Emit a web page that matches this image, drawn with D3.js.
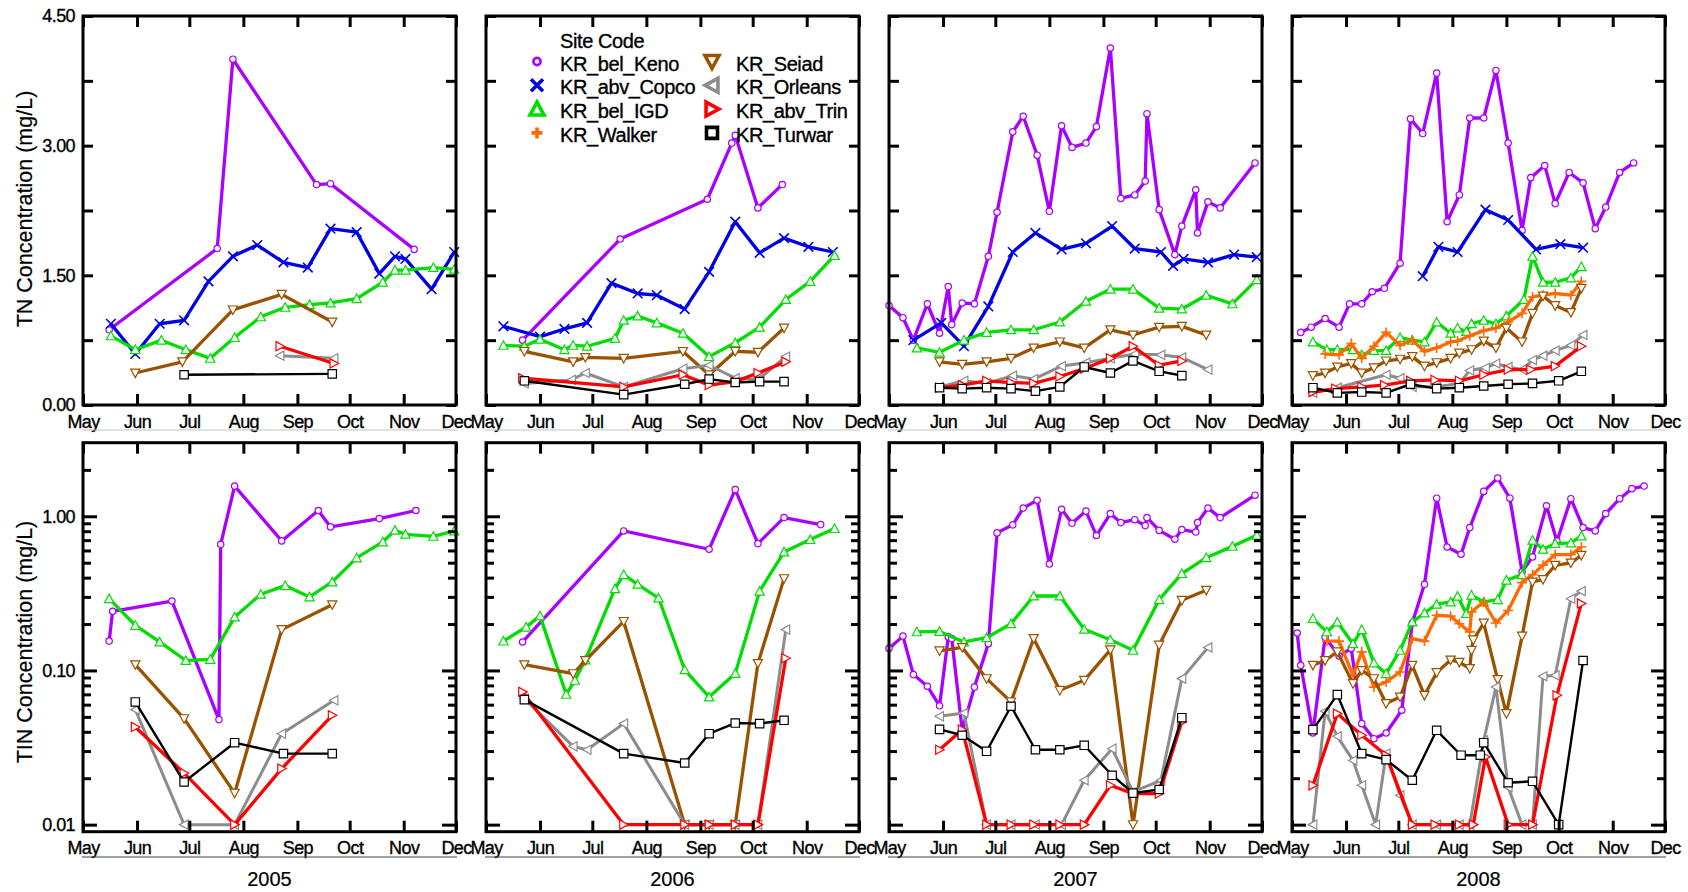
<!DOCTYPE html>
<html>
<head>
<meta charset="utf-8">
<script src="https://cdn.jsdelivr.net/npm/d3@7"></script>
<style>
  body { margin: 0; background: #fff; }
  svg { display: block; }
  text { font-family: "Liberation Sans", Arial, sans-serif; stroke: #000; stroke-width: 0.35px; }
</style>
</head>
<body>
<svg id="chart" width="1688" height="892"></svg>
<script>
// ---- categories and styles per monitoring site ----
const years = [2005, 2006, 2007, 2008];
const sites = ["KR_bel_Keno", "KR_abv_Copco", "KR_bel_IGD", "KR_Walker",
               "KR_Seiad", "KR_Orleans", "KR_abv_Trin", "KR_Turwar"];
const siteColors = ["#aa00ff", "#0000e6", "#00dd00", "#ff6a00",
                    "#9a5200", "#8c8c8c", "#ff0000", "#000000"];
const siteMarkers = ["circle", "x", "triUp", "plus", "triDown", "triLeft", "triRight", "square"];

// ---- axis ticks ----
const tnTicks = [0, 0.75, 1.5, 2.25, 3, 3.75, 4.5];
const tnTickLabels = [0, 1.5, 3, 4.5];
const tinMajorTicks = [0.01, 0.1, 1];
const tinMinorTicks = [0.02, 0.03, 0.04, 0.05, 0.06, 0.07, 0.08, 0.09,
                       0.2, 0.3, 0.4, 0.5, 0.6, 0.7, 0.8, 0.9, 2];

// ---- TN concentration (mg/L), [month-day, value] ----
const tn2005Keno = [["05-16",0.87],["07-17",1.81],["07-26",4.0],["09-12",2.55],["09-20",2.56],["11-07",1.80]];
const tn2005Copco = [["05-17",0.94],["05-31",0.59],["06-14",0.94],["06-28",0.98],["07-12",1.43],["07-26",1.72],["08-09",1.85],["08-24",1.65],["09-07",1.59],["09-20",2.04],["10-05",2.00],["10-18",1.52],["10-27",1.72],["11-02",1.69],["11-17",1.34],["11-30",1.77]];
const tn2005IGD = [["05-17",0.80],["05-31",0.64],["06-15",0.75],["06-29",0.64],["07-13",0.54],["07-27",0.78],["08-11",1.02],["08-25",1.13],["09-08",1.16],["09-20",1.18],["10-05",1.23],["10-20",1.42],["10-27",1.56],["11-02",1.56],["11-18",1.59],["11-30",1.57]];
const tn2005Walker = [];
const tn2005Seiad = [["05-31",0.37],["06-27",0.50],["07-26",1.10],["08-23",1.28],["09-21",0.96]];
const tn2005Orleans = [["08-22",0.57],["09-22",0.54]];
const tn2005Trin = [["08-22",0.68],["09-22",0.48]];
const tn2005Turwar = [["06-28",0.35],["09-21",0.36]];

const tn2006Keno = [["05-22",0.75],["07-17",1.92],["09-05",2.38],["09-19",3.03],["09-21",3.12],["10-04",2.28],["10-18",2.55]];
const tn2006Copco = [["05-11",0.91],["06-01",0.79],["06-15",0.88],["06-28",0.95],["07-12",1.41],["07-27",1.29],["08-07",1.27],["08-23",1.11],["09-06",1.54],["09-21",2.12],["10-05",1.76],["10-19",1.93],["11-02",1.83],["11-16",1.77]];
const tn2006IGD = [["05-11",0.69],["05-23",0.68],["06-01",0.76],["06-15",0.64],["06-20",0.69],["06-28",0.68],["07-14",0.77],["07-19",0.98],["07-27",1.03],["08-07",0.95],["08-22",0.83],["09-06",0.56],["09-21",0.72],["10-05",0.90],["10-20",1.22],["11-03",1.43],["11-17",1.73]];
const tn2006Walker = [];
const tn2006Seiad = [["05-23",0.62],["06-20",0.50],["06-27",0.55],["07-19",0.54],["08-22",0.62],["09-06",0.35],["09-21",0.62],["10-04",0.61],["10-19",0.89]];
const tn2006Orleans = [["05-23",0.25],["06-19",0.29],["06-27",0.37],["07-19",0.21],["08-22",0.42],["09-06",0.46],["09-21",0.31],["10-04",0.29],["10-20",0.56]];
const tn2006Trin = [["05-22",0.31],["07-19",0.21],["08-22",0.35],["09-06",0.23],["09-21",0.27],["10-04",0.37],["10-20",0.50]];
const tn2006Turwar = [["05-23",0.28],["07-19",0.12],["08-23",0.24],["09-06",0.30],["09-21",0.26],["10-05",0.27],["10-19",0.27]];

const tn2007Keno = [["05-01",1.15],["05-09",1.01],["05-15",0.75],["05-23",1.17],["05-30",0.83],["06-04",1.37],["06-06",0.93],["06-12",1.18],["06-19",1.17],["06-27",1.72],["07-02",2.23],["07-11",3.16],["07-17",3.34],["07-25",2.89],["08-01",2.24],["08-08",3.23],["08-14",2.98],["08-22",3.03],["08-28",3.22],["09-05",4.13],["09-11",2.39],["09-19",2.43],["09-25",2.59],["09-26",3.37],["10-03",2.26],["10-12",1.74],["10-16",2.07],["10-24",2.49],["10-25",1.99],["10-31",2.35],["11-07",2.28],["11-27",2.80]];
const tn2007Copco = [["05-15",0.75],["05-31",0.95],["06-13",0.68],["06-27",1.14],["07-11",1.77],["07-24",1.99],["08-08",1.80],["08-22",1.87],["09-06",2.07],["09-19",1.81],["10-04",1.77],["10-11",1.61],["10-17",1.69],["10-31",1.65],["11-15",1.74],["11-28",1.71]];
const tn2007IGD = [["05-17",0.66],["05-30",0.61],["06-13",0.75],["06-26",0.84],["07-10",0.87],["07-23",0.87],["08-07",0.96],["08-22",1.20],["09-05",1.34],["09-18",1.34],["10-03",1.12],["10-16",1.11],["10-30",1.27],["11-14",1.17],["11-28",1.45]];
const tn2007Walker = [];
const tn2007Seiad = [["05-30",0.50],["06-12",0.47],["06-26",0.50],["07-10",0.54],["07-23",0.66],["08-07",0.73],["08-21",0.66],["09-05",0.87],["09-18",0.81],["10-03",0.90],["10-16",0.91],["10-30",0.81]];
const tn2007Orleans = [["05-30",0.21],["06-13",0.28],["06-26",0.25],["07-11",0.34],["07-23",0.30],["08-08",0.45],["08-22",0.49],["09-05",0.54],["09-19",0.59],["10-04",0.58],["10-16",0.55],["10-31",0.41]];
const tn2007Trin = [["05-30",0.20],["06-12",0.23],["06-26",0.28],["07-10",0.26],["07-23",0.25],["08-07",0.33],["08-21",0.42],["09-05",0.54],["09-18",0.68],["10-03",0.46],["10-16",0.51]];
const tn2007Turwar = [["05-30",0.20],["06-12",0.19],["06-26",0.20],["07-10",0.19],["07-24",0.16],["08-07",0.21],["08-21",0.44],["09-05",0.37],["09-18",0.51],["10-03",0.39],["10-16",0.34]];

const tn2008Keno = [["05-06",0.84],["05-12",0.90],["05-20",1.00],["05-28",0.90],["06-03",1.17],["06-10",1.17],["06-16",1.31],["06-23",1.35],["07-02",1.64],["07-08",3.31],["07-15",3.14],["07-23",3.84],["07-29",2.12],["08-05",2.43],["08-11",3.32],["08-19",3.32],["08-26",3.87],["09-02",3.03],["09-10",2.02],["09-15",2.63],["09-23",2.77],["09-29",2.33],["10-07",2.69],["10-15",2.57],["10-22",2.04],["10-28",2.29],["11-05",2.69],["11-13",2.80]];
const tn2008Copco = [["07-15",1.49],["07-24",1.83],["08-04",1.77],["08-20",2.26],["09-02",2.14],["09-18",1.80],["10-02",1.86],["10-15",1.82]];
const tn2008IGD = [["05-13",0.73],["05-21",0.64],["05-27",0.64],["06-05",0.64],["06-10",0.58],["06-17",0.63],["06-24",0.63],["07-02",0.78],["07-09",0.75],["07-16",0.73],["07-23",0.96],["07-31",0.83],["08-04",0.89],["08-09",0.85],["08-12",0.94],["08-19",0.98],["08-26",0.94],["09-01",1.03],["09-11",1.22],["09-16",1.72],["09-22",1.42],["09-29",1.42],["10-08",1.47],["10-14",1.60]];
const tn2008Walker = [["05-20",0.59],["05-28",0.58],["06-04",0.71],["06-10",0.54],["06-17",0.68],["06-24",0.84],["07-02",0.69],["07-09",0.75],["07-16",0.62],["07-23",0.66],["07-31",0.73],["08-04",0.74],["08-11",0.80],["08-19",0.86],["08-26",0.89],["09-02",0.96],["09-10",1.06],["09-16",1.25],["09-22",1.27],["09-29",1.29],["10-08",1.27],["10-14",1.43]];
const tn2008Seiad = [["05-13",0.34],["05-20",0.37],["05-27",0.44],["06-04",0.48],["06-10",0.37],["06-17",0.43],["06-24",0.51],["07-02",0.53],["07-09",0.56],["07-16",0.45],["07-23",0.49],["07-31",0.54],["08-05",0.60],["08-12",0.64],["08-19",0.74],["08-26",0.66],["09-01",0.89],["09-10",0.73],["09-16",1.06],["09-22",1.26],["09-29",1.15],["10-08",1.07],["10-14",1.35]];
const tn2008Orleans = [["05-13",0.14],["05-27",0.20],["06-24",0.35],["07-02",0.31],["07-09",0.21],["07-23",0.21],["08-05",0.25],["08-11",0.40],["08-20",0.43],["08-26",0.48],["09-02",0.44],["09-10",0.41],["09-16",0.52],["09-22",0.57],["09-29",0.63],["10-08",0.69],["10-15",0.81]];
const tn2008Trin = [["05-13",0.15],["05-26",0.19],["06-10",0.21],["06-23",0.23],["07-08",0.28],["07-22",0.29],["08-05",0.28],["08-19",0.35],["09-02",0.41],["09-15",0.41],["09-29",0.45],["10-14",0.68]];
const tn2008Turwar = [["05-13",0.20],["05-27",0.14],["06-10",0.15],["06-24",0.14],["07-08",0.24],["07-23",0.19],["08-05",0.20],["08-19",0.22],["09-02",0.24],["09-16",0.25],["10-01",0.28],["10-14",0.39]];

// ---- TIN concentration (mg/L), [month-day, value] ----
const tin2005Keno = [["05-16",0.155],["05-18",0.242],["06-21",0.282],["07-18",0.048],["07-19",0.658],["07-27",1.57],["08-23",0.692],["09-13",1.09],["09-20",0.853],["10-18",0.966],["11-08",1.09]];
const tin2005Copco = [];
const tin2005IGD = [["05-16",0.292],["05-31",0.196],["06-14",0.153],["06-29",0.116],["07-13",0.118],["07-27",0.222],["08-11",0.312],["08-25",0.355],["09-08",0.30],["09-21",0.375],["10-05",0.537],["10-20",0.682],["10-27",0.811],["11-02",0.764],["11-18",0.741],["11-30",0.803]];
const tin2005Walker = [];
const tin2005Seiad = [["05-31",0.109],["06-28",0.0487],["07-27",0.016],["08-23",0.184],["09-21",0.267]];
const tin2005Orleans = [["05-31",0.0557],["06-28",0.01],["07-27",0.01],["08-23",0.0389],["09-22",0.064]];
const tin2005Trin = [["05-31",0.043],["06-28",0.0216],["07-27",0.01],["08-23",0.0231],["09-21",0.0512]];
const tin2005Turwar = [["05-31",0.0625],["06-28",0.0189],["07-27",0.034],["08-24",0.0289],["09-21",0.0289]];

const tin2006Keno = [["05-22",0.153],["07-19",0.803],["09-06",0.611],["09-21",1.49],["10-04",0.665],["10-19",0.98],["11-09",0.883]];
const tin2006Copco = [];
const tin2006IGD = [["05-11",0.155],["05-24",0.191],["06-01",0.226],["06-16",0.07],["06-21",0.0863],["06-27",0.117],["07-14",0.339],["07-19",0.418],["07-27",0.362],["08-08",0.295],["08-23",0.101],["09-06",0.0673],["09-21",0.0955],["10-05",0.327],["10-19",0.587],["11-03",0.706],["11-17",0.832]];
const tin2006Walker = [];
const tin2006Seiad = [["05-23",0.109],["06-20",0.0953],["06-27",0.116],["07-19",0.208],["08-23",0.01],["09-06",0.01],["09-21",0.01],["10-04",0.111],["10-19",0.394]];
const tin2006Orleans = [["05-23",0.0656],["06-20",0.0322],["06-28",0.0306],["07-19",0.0452],["08-23",0.01],["09-06",0.01],["09-21",0.01],["10-04",0.01],["10-20",0.184]];
const tin2006Trin = [["05-22",0.0726],["07-19",0.01],["08-23",0.01],["09-06",0.01],["09-21",0.01],["10-04",0.01],["10-20",0.12]];
const tin2006Turwar = [["05-23",0.0647],["07-19",0.0289],["08-23",0.0251],["09-06",0.0389],["09-21",0.0456],["10-05",0.0452],["10-19",0.0475]];

const tin2007Keno = [["05-01",0.139],["05-09",0.167],["05-15",0.094],["05-23",0.079],["05-30",0.059],["06-04",0.165],["06-06",0.161],["06-12",0.041],["06-19",0.078],["06-27",0.149],["07-02",0.78],["07-11",0.88],["07-17",1.13],["07-25",1.27],["08-01",0.49],["08-08",1.11],["08-14",0.90],["08-22",1.08],["08-28",0.75],["09-05",1.04],["09-11",0.91],["09-19",0.95],["09-25",0.87],["09-26",0.98],["10-03",0.81],["10-12",0.71],["10-16",0.82],["10-24",0.79],["10-25",0.91],["10-31",1.13],["11-07",0.98],["11-27",1.37]];
const tin2007Copco = [];
const tin2007IGD = [["05-17",0.178],["05-30",0.179],["06-13",0.153],["06-26",0.163],["07-10",0.201],["07-23",0.304],["08-07",0.304],["08-21",0.185],["09-05",0.158],["09-18",0.135],["10-03",0.288],["10-16",0.425],["10-30",0.539],["11-14",0.638],["11-28",0.753]];
const tin2007Walker = [];
const tin2007Seiad = [["05-30",0.134],["06-12",0.141],["06-26",0.0885],["07-10",0.0625],["07-23",0.161],["08-07",0.0743],["08-21",0.0863],["09-05",0.136],["09-18",0.01],["10-03",0.146],["10-16",0.285],["10-30",0.331]];
const tin2007Orleans = [["05-30",0.0504],["06-13",0.053],["06-26",0.01],["07-10",0.01],["07-24",0.01],["08-08",0.01],["08-21",0.0194],["09-06",0.0311],["09-18",0.0163],["10-04",0.0194],["10-16",0.0885],["10-31",0.141]];
const tin2007Trin = [["05-30",0.0306],["06-12",0.0413],["06-26",0.01],["07-10",0.01],["07-23",0.01],["08-07",0.01],["08-21",0.01],["09-05",0.018],["09-18",0.0159],["10-03",0.0159],["10-16",0.0464]];
const tin2007Turwar = [["05-30",0.0415],["06-12",0.038],["06-26",0.0299],["07-10",0.0586],["07-24",0.0306],["08-07",0.0306],["08-21",0.0327],["09-06",0.0209],["09-18",0.016],["10-03",0.0169],["10-16",0.0494]];

const tin2008Keno = [["05-04",0.175],["05-06",0.108],["05-13",0.0393],["05-20",0.164],["05-28",0.124],["06-04",0.139],["06-10",0.0452],["06-17",0.0361],["06-24",0.0393],["07-03",0.0552],["07-09",0.203],["07-16",0.362],["07-23",1.31],["07-29",0.632],["08-06",0.567],["08-11",0.844],["08-19",1.45],["08-27",1.77],["09-03",1.31],["09-10",0.436],["09-16",0.545],["09-24",1.17],["09-30",0.689],["10-08",1.30],["10-15",0.844],["10-22",0.803],["10-28",1.04],["11-05",1.30],["11-12",1.51],["11-19",1.57]];
const tin2008Copco = [];
const tin2008IGD = [["05-13",0.217],["05-21",0.178],["05-27",0.206],["06-05",0.149],["06-10",0.184],["06-17",0.112],["06-24",0.0953],["07-02",0.135],["07-09",0.206],["07-16",0.236],["07-23",0.269],["07-31",0.278],["08-04",0.303],["08-09",0.234],["08-12",0.308],["08-19",0.278],["08-27",0.288],["09-01",0.385],["09-10",0.418],["09-16",0.699],["09-22",0.611],["09-29",0.665],["10-08",0.672],["10-14",0.745]];
const tin2008Walker = [["05-21",0.155],["05-28",0.155],["06-05",0.093],["06-10",0.132],["06-17",0.078],["06-24",0.0842],["07-02",0.0977],["07-09",0.161],["07-16",0.155],["07-23",0.228],["07-31",0.225],["08-05",0.201],["08-11",0.178],["08-12",0.24],["08-19",0.278],["08-26",0.203],["09-02",0.245],["09-10",0.371],["09-16",0.418],["09-22",0.482],["09-29",0.564],["10-08",0.564],["10-14",0.632]];
const tin2008Seiad = [["05-13",0.108],["05-20",0.116],["05-27",0.132],["06-05",0.0822],["06-10",0.10],["06-17",0.0885],["06-24",0.061],["07-02",0.0673],["07-09",0.108],["07-16",0.069],["07-23",0.0968],["07-31",0.117],["08-05",0.113],["08-11",0.103],["08-12",0.135],["08-13",0.158],["08-19",0.203],["08-27",0.0873],["09-01",0.0525],["09-10",0.167],["09-16",0.375],["09-22",0.389],["09-29",0.481],["10-08",0.498],["10-14",0.558]];
const tin2008Orleans = [["05-13",0.01],["05-20",0.0543],["05-27",0.0374],["06-05",0.0261],["06-10",0.018],["06-18",0.01],["06-24",0.0289],["07-02",0.0155],["07-09",0.01],["07-23",0.01],["08-05",0.01],["08-11",0.01],["08-19",0.0352],["08-26",0.078],["09-02",0.0175],["09-10",0.01],["09-16",0.01],["09-22",0.0917],["09-29",0.0929],["10-08",0.292],["10-14",0.327]];
const tin2008Trin = [["05-13",0.018],["05-27",0.0525],["06-10",0.038],["06-24",0.0282],["07-09",0.01],["07-22",0.01],["08-05",0.01],["08-13",0.01],["08-20",0.0275],["09-02",0.01],["09-16",0.01],["09-30",0.069],["10-14",0.272]];
const tin2008Turwar = [["05-13",0.0413],["05-27",0.0697],["06-10",0.0289],["06-24",0.0264],["07-09",0.0194],["07-23",0.0409],["08-06",0.0282],["08-17",0.0282],["08-19",0.034],["09-02",0.0187],["09-16",0.0191],["10-01",0.01],["10-15",0.116]];

// series per year, in site order
const tnByYear = [
  [tn2005Keno, tn2005Copco, tn2005IGD, tn2005Walker, tn2005Seiad, tn2005Orleans, tn2005Trin, tn2005Turwar],
  [tn2006Keno, tn2006Copco, tn2006IGD, tn2006Walker, tn2006Seiad, tn2006Orleans, tn2006Trin, tn2006Turwar],
  [tn2007Keno, tn2007Copco, tn2007IGD, tn2007Walker, tn2007Seiad, tn2007Orleans, tn2007Trin, tn2007Turwar],
  [tn2008Keno, tn2008Copco, tn2008IGD, tn2008Walker, tn2008Seiad, tn2008Orleans, tn2008Trin, tn2008Turwar]
];
const tinByYear = [
  [tin2005Keno, tin2005Copco, tin2005IGD, tin2005Walker, tin2005Seiad, tin2005Orleans, tin2005Trin, tin2005Turwar],
  [tin2006Keno, tin2006Copco, tin2006IGD, tin2006Walker, tin2006Seiad, tin2006Orleans, tin2006Trin, tin2006Turwar],
  [tin2007Keno, tin2007Copco, tin2007IGD, tin2007Walker, tin2007Seiad, tin2007Orleans, tin2007Trin, tin2007Turwar],
  [tin2008Keno, tin2008Copco, tin2008IGD, tin2008Walker, tin2008Seiad, tin2008Orleans, tin2008Trin, tin2008Turwar]
];

// ---- layout ----
const svg = d3.select("#chart");
svg.append("rect").attr("width", 1688).attr("height", 892).attr("fill", "#fff");

const panelW = 373;
const colLeft = c => 83 + c * 403;
const rows = [
  { top: 16, bottom: 405, kind: "TN", ruleY: 430, ruleColor: "#c4c4c4" },
  { top: 442.7, bottom: 831.7, kind: "TIN", ruleY: 857, ruleColor: "#444" }
];
const FONT = '"Liberation Sans", Arial, sans-serif';

function markerPath(kind, s) {
  const h = s * 0.85;
  switch (kind) {
    case "circle": return d3.arc()({ innerRadius: 0, outerRadius: s, startAngle: 0, endAngle: 2 * Math.PI });
    case "x": return `M${-s},${-s}L${s},${s}M${-s},${s}L${s},${-s}`;
    case "plus": return `M${-s},0H${s}M0,${-s}V${s}`;
    case "triUp": return `M0,${-s}L${s},${h}L${-s},${h}Z`;
    case "triDown": return `M0,${s}L${s},${-h}L${-s},${-h}Z`;
    case "triLeft": return `M${-s},0L${h},${-s}L${h},${s}Z`;
    case "triRight": return `M${s},0L${-h},${-s}L${-h},${s}Z`;
    case "square": return `M${-s},${-s}H${s}V${s}H${-s}Z`;
  }
}
const plotMarkerSize = { circle: 3.2, x: 4.8, plus: 5, triUp: 4.6, triDown: 4.6, triLeft: 4.6, triRight: 4.6, square: 4.2 };
const lineWidth = [3.3, 3.3, 3.3, 3.3, 3.3, 3, 3.3, 2.4];

function styleAxis(g) {
  g.select(".domain").remove();
  g.selectAll(".tick line").attr("stroke", "#000").attr("stroke-width", 3);
  g.selectAll(".tick text").attr("fill", "#000")
    .style("font-family", FONT).style("font-size", "18px").style("letter-spacing", "-0.6px");
}

rows.forEach((row, r) => {
  years.forEach((year, c) => {
    const L = colLeft(c), R = L + panelW;
    const g = svg.append("g");
    const x = d3.scaleTime()
      .domain([new Date(year, 4, 1), new Date(year, 11, 1)])
      .range([L, R]);
    const y = r === 0
      ? d3.scaleLinear().domain([0, 4.5]).range([row.bottom, row.top])
      : d3.scaleLog().domain([0.009, 3]).range([row.bottom, row.top]);

    const seriesList = (r === 0 ? tnByYear : tinByYear)[c];

    // lines and open markers, in site order
    seriesList.forEach((series, si) => {
      if (!series.length) return;
      const pts = series.map(([md, v]) => ({
        date: new Date(year, +md.slice(0, 2) - 1, +md.slice(3)), v
      }));
      const line = d3.line().x(d => x(d.date)).y(d => y(d.v));
      g.append("path").datum(pts)
        .attr("d", line)
        .attr("fill", "none")
        .attr("stroke", siteColors[si])
        .attr("stroke-width", lineWidth[si])
        .attr("stroke-linejoin", "round");
      const mk = siteMarkers[si];
      const open = mk !== "x" && mk !== "plus";
      g.selectAll(null).data(pts).enter().append("path")
        .attr("transform", d => `translate(${x(d.date)},${y(d.v)})`)
        .attr("d", markerPath(mk, plotMarkerSize[mk]))
        .attr("fill", open ? "#fff" : "none")
        .attr("stroke", siteColors[si])
        .attr("stroke-width", open ? 1.2 : 1.6);
    });

    // frame
    g.append("rect")
      .attr("x", L).attr("y", row.top)
      .attr("width", panelW).attr("height", row.bottom - row.top)
      .attr("fill", "none").attr("stroke", "#000").attr("stroke-width", 3);

    // month ticks, inward on both edges
    const monthTicks = d3.range(4, 12).map(m => new Date(year, m, 1));
    g.append("g").attr("transform", `translate(0,${row.bottom})`)
      .call(d3.axisBottom(x).tickValues(monthTicks).tickSize(-11).tickPadding(10)
        .tickFormat(d3.timeFormat("%b")))
      .call(styleAxis);
    g.append("g").attr("transform", `translate(0,${row.top})`)
      .call(d3.axisTop(x).tickValues(monthTicks).tickSize(-11).tickFormat(""))
      .call(styleAxis);

    // value ticks, inward on both edges
    if (r === 0) {
      const fmt = d => (c === 0 && tnTickLabels.includes(d)) ? d3.format(".2f")(d) : "";
      g.append("g").attr("transform", `translate(${L},0)`)
        .call(d3.axisLeft(y).tickValues(tnTicks).tickSize(-10).tickPadding(8).tickFormat(fmt))
        .call(styleAxis);
      g.append("g").attr("transform", `translate(${R},0)`)
        .call(d3.axisRight(y).tickValues(tnTicks).tickSize(-10).tickFormat(""))
        .call(styleAxis);
    } else {
      const fmt = d => c === 0 ? d3.format(".2f")(d) : "";
      g.append("g").attr("transform", `translate(${L},0)`)
        .call(d3.axisLeft(y).tickValues(tinMinorTicks).tickSize(-8).tickFormat(""))
        .call(styleAxis);
      g.append("g").attr("transform", `translate(${L},0)`)
        .call(d3.axisLeft(y).tickValues(tinMajorTicks).tickSize(-14).tickPadding(8).tickFormat(fmt))
        .call(styleAxis);
      g.append("g").attr("transform", `translate(${R},0)`)
        .call(d3.axisRight(y).tickValues(tinMinorTicks).tickSize(-8).tickFormat(""))
        .call(styleAxis);
      g.append("g").attr("transform", `translate(${R},0)`)
        .call(d3.axisRight(y).tickValues(tinMajorTicks).tickSize(-14).tickFormat(""))
        .call(styleAxis);
    }

    // thin rule under the month labels
    g.append("line")
      .attr("x1", L - 1).attr("x2", R + 1)
      .attr("y1", row.ruleY).attr("y2", row.ruleY)
      .attr("stroke", row.ruleColor).attr("stroke-width", 1.2);

    // year caption under the lower row
    if (r === 1) {
      g.append("text")
        .attr("x", (L + R) / 2).attr("y", 886)
        .attr("text-anchor", "middle")
        .style("font-size", "20px")
        .style("stroke-width", "0.2px")
        .text(year);
    }
  });
});

// value axis titles
const titles = [["TN Concentration (mg/L)", 209], ["TIN Concentration (mg/L)", 642]];
titles.forEach(([t, cy]) => {
  svg.append("text")
    .attr("transform", `translate(32,${cy}) rotate(-90)`)
    .attr("text-anchor", "middle")
    .style("font-size", "21.5px")
    .style("stroke-width", "0.2px")
    .text(t);
});

// legend, placed in the 2006 TN panel
const legend = svg.append("g");
legend.append("text").attr("x", 560).attr("y", 48)
  .style("font-size", "20px").style("letter-spacing", "-0.4px").text("Site Code");
const legendMarkerSize = { circle: 3.6, x: 6, plus: 5.5, triUp: 7, triDown: 7, triLeft: 7, triRight: 7, square: 5.5 };
sites.forEach((name, i) => {
  const col = Math.floor(i / 4), rowI = i % 4;
  const sx = col === 0 ? 537 : 712;
  const tx = col === 0 ? 560 : 736;
  const base = 70.5 + rowI * 23.8;
  const mk = siteMarkers[i];
  legend.append("path")
    .attr("transform", `translate(${sx},${base - 9})`)
    .attr("d", markerPath(mk, legendMarkerSize[mk]))
    .attr("fill", "none")
    .attr("stroke", siteColors[i])
    .attr("stroke-width", mk === "circle" ? 2.6 : 3.6);
  legend.append("text").attr("x", tx).attr("y", base)
    .style("font-size", "20px").style("letter-spacing", "-0.4px").text(name);
});
</script>
</body>
</html>
